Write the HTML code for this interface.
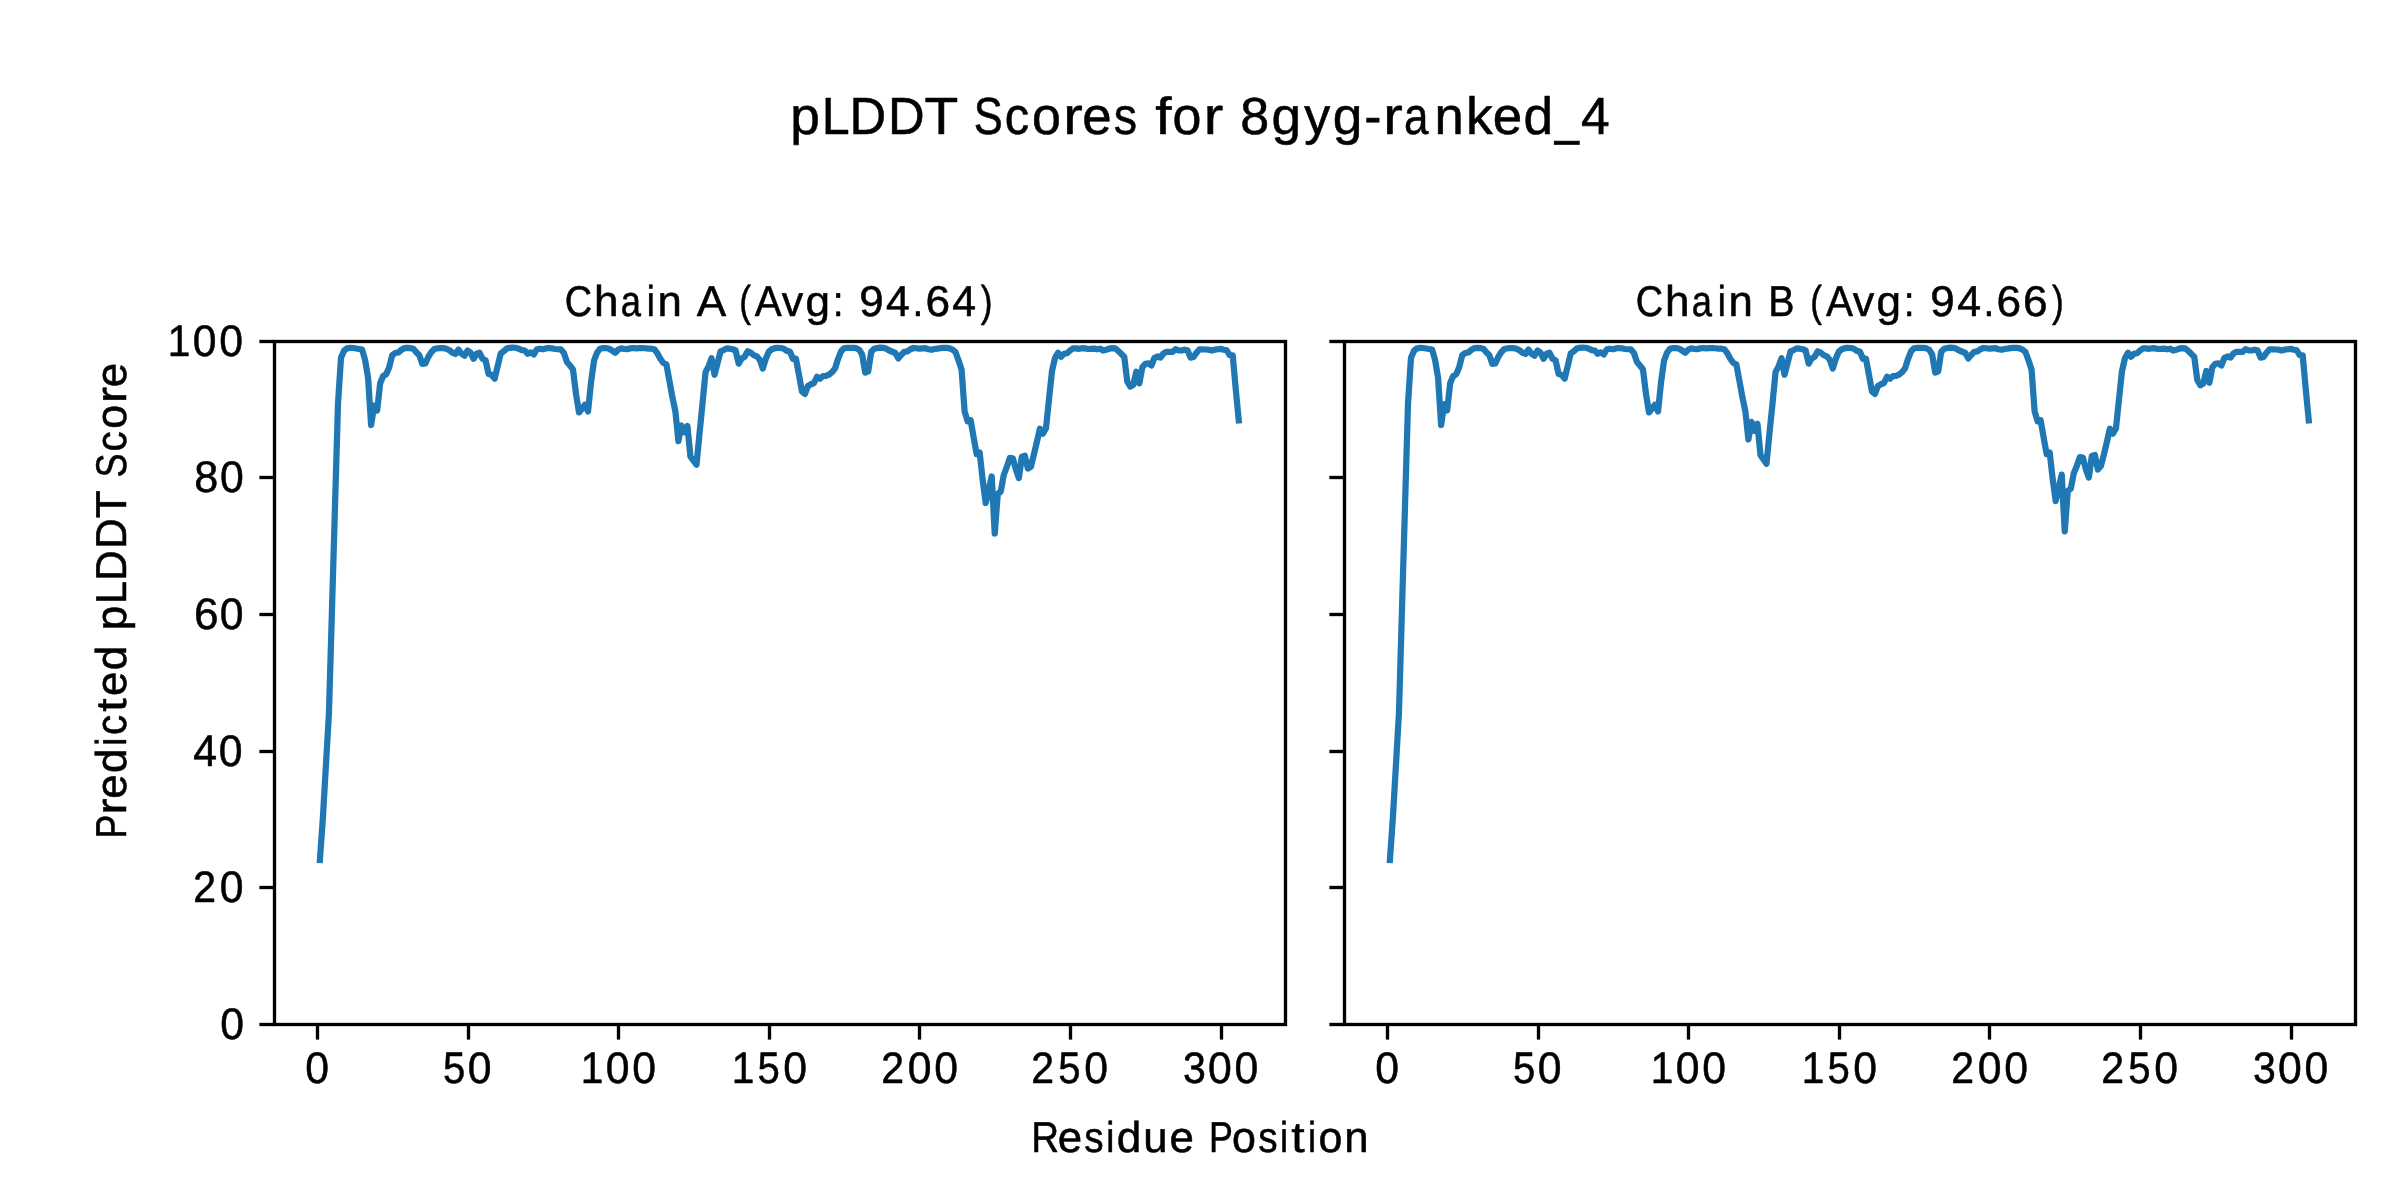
<!DOCTYPE html>
<html lang="en"><head><meta charset="utf-8"><title>pLDDT Scores for 8gyg-ranked_4</title>
<style>
html,body{margin:0;padding:0;background:#fff;}
body{width:2400px;height:1200px;overflow:hidden;}
svg{display:block;}
text{font-family:"Liberation Sans",sans-serif;fill:#000;stroke:#000;stroke-width:0.55px;stroke-linejoin:round;text-rendering:geometricPrecision;}
.sp{fill:none;stroke:#000;stroke-width:3.333;stroke-linecap:square;stroke-linejoin:miter;}
.tk{stroke:#000;stroke-width:3.333;stroke-linecap:butt;}
.ln{fill:none;stroke:#1f77b4;stroke-width:6.25;stroke-linecap:square;stroke-linejoin:round;}
</style></head><body>
<svg width="2400" height="1200" viewBox="0 0 2400 1200" role="img" aria-label="pLDDT Scores for 8gyg-ranked_4">
<rect x="0" y="0" width="2400" height="1200" fill="#ffffff"/>
<polyline class="ln" points="319.91,860.00 322.93,817.00 325.94,765.00 328.95,713.00 331.96,610.00 334.98,507.00 337.99,404.00 341.00,357.70 344.01,350.70 347.03,348.30 350.04,347.90 353.05,348.00 356.06,348.50 359.08,349.00 362.09,349.50 365.10,360.00 368.11,378.00 371.13,425.00 374.14,405.50 377.15,410.50 380.16,383.30 383.18,376.00 386.19,374.30 389.20,367.30 392.21,355.30 395.23,353.00 398.24,352.50 401.25,350.00 404.27,348.10 407.28,347.90 410.29,348.10 413.30,348.70 416.32,352.30 419.33,355.30 422.34,363.90 425.35,363.50 428.37,356.70 431.38,352.00 434.39,349.00 437.40,348.30 440.42,348.00 443.43,348.10 446.44,348.70 449.45,350.30 452.47,352.70 455.48,354.00 458.49,349.50 461.50,353.70 464.52,355.80 467.53,350.50 470.54,352.60 473.56,358.80 476.57,353.80 479.58,352.80 482.59,358.80 485.61,360.50 488.62,374.00 491.63,374.80 494.64,378.70 497.66,366.30 500.67,353.60 503.68,351.30 506.69,348.60 509.71,347.80 512.72,347.60 515.73,347.75 518.74,348.70 521.76,350.10 524.77,350.50 527.78,353.80 530.79,352.30 533.81,354.40 536.82,349.25 539.83,348.70 542.85,349.25 545.86,348.40 548.87,348.00 551.88,348.30 554.90,349.00 557.91,349.25 560.92,349.40 563.93,353.00 566.95,362.00 569.96,365.50 572.97,369.40 575.98,393.80 579.00,412.40 582.01,408.80 585.02,404.70 588.03,411.50 591.05,382.20 594.06,360.50 597.07,352.60 600.08,348.80 603.10,348.00 606.11,348.00 609.12,348.70 612.13,350.50 615.15,352.80 618.16,349.70 621.17,348.40 624.19,348.80 627.20,349.10 630.21,348.40 633.22,348.00 636.24,348.40 639.25,348.20 642.26,348.00 645.27,348.25 648.29,348.60 651.30,348.70 654.31,349.25 657.32,353.20 660.34,358.80 663.35,363.00 666.36,364.30 669.37,380.50 672.39,397.20 675.40,411.50 678.41,441.20 681.42,425.50 684.44,432.30 687.45,426.10 690.46,456.70 693.47,460.70 696.49,464.70 699.50,433.70 702.51,403.50 705.53,372.20 708.54,366.30 711.55,358.25 714.56,374.80 717.58,363.00 720.59,351.30 723.60,350.10 726.61,348.40 729.63,348.70 732.64,349.25 735.65,350.50 738.66,363.60 741.68,358.40 744.69,356.75 747.70,351.30 750.71,352.60 753.73,355.10 756.74,356.30 759.75,359.70 762.76,368.60 765.78,358.80 768.79,351.75 771.80,349.25 774.82,348.20 777.83,347.80 780.84,348.00 783.85,348.70 786.87,350.90 789.88,351.50 792.89,358.80 795.90,358.60 798.92,374.70 801.93,391.30 804.94,394.00 807.95,385.90 810.97,384.25 813.98,383.00 816.99,376.75 820.00,378.75 823.02,376.00 826.03,375.90 829.04,374.70 832.05,372.20 835.07,368.40 838.08,358.80 841.09,351.30 844.11,348.25 847.12,347.75 850.13,347.75 853.14,347.80 856.16,348.20 859.17,349.70 862.18,354.70 865.19,372.60 868.21,371.30 871.22,351.75 874.23,348.80 877.24,348.00 880.26,347.60 883.27,347.80 886.28,348.80 889.29,350.50 892.31,351.75 895.32,353.00 898.33,358.40 901.34,354.70 904.36,351.75 907.37,351.30 910.38,349.25 913.39,348.00 916.41,348.25 919.42,348.60 922.43,348.30 925.45,348.20 928.46,349.25 931.47,349.80 934.48,349.00 937.50,348.60 940.51,348.20 943.52,347.80 946.53,347.80 949.55,348.40 952.56,349.70 955.57,352.20 958.58,360.50 961.60,369.70 964.61,411.30 967.62,421.30 970.63,420.30 973.65,437.50 976.66,454.20 979.67,452.50 982.68,480.00 985.70,503.00 988.71,489.70 991.72,476.50 994.74,533.50 997.75,494.00 1000.76,491.50 1003.77,475.00 1006.79,467.00 1009.80,457.90 1012.81,458.30 1015.82,469.20 1018.84,478.00 1021.85,456.70 1024.86,455.80 1027.87,468.50 1030.89,466.70 1033.90,454.50 1036.91,441.70 1039.92,428.75 1042.94,433.60 1045.95,428.50 1048.96,399.50 1051.97,371.30 1054.99,358.00 1058.00,352.80 1061.01,356.75 1064.02,353.80 1067.04,353.25 1070.05,350.50 1073.06,348.40 1076.08,348.40 1079.09,348.80 1082.10,348.20 1085.11,348.40 1088.13,349.00 1091.14,348.80 1094.15,348.60 1097.16,349.25 1100.18,348.70 1103.19,350.50 1106.20,349.70 1109.21,348.70 1112.23,348.20 1115.24,348.40 1118.25,350.90 1121.26,353.80 1124.28,357.00 1127.29,381.70 1130.30,386.50 1133.31,384.70 1136.33,371.75 1139.34,383.40 1142.35,367.20 1145.37,363.80 1148.38,363.40 1151.39,365.50 1154.40,357.80 1157.42,356.50 1160.43,357.60 1163.44,353.40 1166.45,351.75 1169.47,351.75 1172.48,352.00 1175.49,349.25 1178.50,350.30 1181.52,350.50 1184.53,349.70 1187.54,350.30 1190.55,357.60 1193.57,357.00 1196.58,352.60 1199.59,349.25 1202.60,349.25 1205.62,349.50 1208.63,349.70 1211.64,350.50 1214.65,349.70 1217.67,349.25 1220.68,348.80 1223.69,349.70 1226.71,350.30 1229.72,355.10 1232.73,355.30 1235.74,389.00 1238.76,420.40"/>
<line class="tk" x1="317.50" y1="1024.5" x2="317.50" y2="1039.60"/>
<line class="tk" x1="468.50" y1="1024.5" x2="468.50" y2="1039.60"/>
<line class="tk" x1="618.50" y1="1024.5" x2="618.50" y2="1039.60"/>
<line class="tk" x1="769.50" y1="1024.5" x2="769.50" y2="1039.60"/>
<line class="tk" x1="919.50" y1="1024.5" x2="919.50" y2="1039.60"/>
<line class="tk" x1="1070.50" y1="1024.5" x2="1070.50" y2="1039.60"/>
<line class="tk" x1="1221.50" y1="1024.5" x2="1221.50" y2="1039.60"/>
<line class="tk" x1="259.40" y1="1024.50" x2="274.50" y2="1024.50"/>
<line class="tk" x1="259.40" y1="887.50" x2="274.50" y2="887.50"/>
<line class="tk" x1="259.40" y1="751.50" x2="274.50" y2="751.50"/>
<line class="tk" x1="259.40" y1="614.50" x2="274.50" y2="614.50"/>
<line class="tk" x1="259.40" y1="477.50" x2="274.50" y2="477.50"/>
<line class="tk" x1="259.40" y1="341.50" x2="274.50" y2="341.50"/>
<rect class="sp" x="274.50" y="341.5" width="1011" height="683"/>
<polyline class="ln" points="1389.91,860.00 1392.93,817.00 1395.94,765.00 1398.95,713.00 1401.96,610.00 1404.98,507.00 1407.99,404.00 1411.00,357.70 1414.01,350.70 1417.03,348.30 1420.04,347.90 1423.05,348.00 1426.06,348.50 1429.08,349.00 1432.09,349.50 1435.10,360.00 1438.11,378.00 1441.13,425.00 1444.14,404.20 1447.15,410.50 1450.16,383.30 1453.18,376.00 1456.19,374.30 1459.20,367.30 1462.22,355.30 1465.23,353.00 1468.24,352.50 1471.25,350.00 1474.27,348.10 1477.28,347.90 1480.29,348.10 1483.30,348.70 1486.32,352.30 1489.33,355.30 1492.34,363.90 1495.35,363.50 1498.37,356.70 1501.38,352.00 1504.39,349.00 1507.40,348.30 1510.42,348.00 1513.43,348.10 1516.44,348.70 1519.45,350.30 1522.47,352.70 1525.48,354.00 1528.49,349.50 1531.50,353.70 1534.52,355.80 1537.53,350.50 1540.54,352.60 1543.56,358.80 1546.57,353.80 1549.58,352.80 1552.59,358.80 1555.61,360.50 1558.62,374.00 1561.63,374.80 1564.64,378.70 1567.66,366.30 1570.67,353.60 1573.68,351.30 1576.69,348.60 1579.71,347.80 1582.72,347.60 1585.73,347.75 1588.74,348.70 1591.76,350.10 1594.77,350.50 1597.78,353.80 1600.79,352.30 1603.81,354.40 1606.82,349.25 1609.83,348.70 1612.85,349.25 1615.86,348.40 1618.87,348.00 1621.88,348.30 1624.90,349.00 1627.91,349.25 1630.92,349.40 1633.93,353.00 1636.95,362.00 1639.96,365.50 1642.97,369.40 1645.98,393.80 1649.00,412.40 1652.01,408.80 1655.02,404.70 1658.03,411.50 1661.05,382.20 1664.06,360.50 1667.07,352.60 1670.08,348.80 1673.10,348.00 1676.11,348.00 1679.12,348.70 1682.13,350.50 1685.15,352.80 1688.16,349.70 1691.17,348.40 1694.19,348.80 1697.20,349.10 1700.21,348.40 1703.22,348.00 1706.24,348.40 1709.25,348.20 1712.26,348.00 1715.27,348.25 1718.29,348.60 1721.30,348.70 1724.31,349.25 1727.32,353.20 1730.34,358.80 1733.35,363.00 1736.36,364.30 1739.37,380.50 1742.39,397.20 1745.40,411.50 1748.41,439.50 1751.42,421.80 1754.44,430.70 1757.45,423.80 1760.46,454.90 1763.48,459.40 1766.49,463.80 1769.50,433.00 1772.51,403.50 1775.53,372.20 1778.54,366.30 1781.55,358.25 1784.56,374.80 1787.58,363.00 1790.59,351.30 1793.60,350.10 1796.61,348.40 1799.63,348.70 1802.64,349.25 1805.65,350.50 1808.66,363.60 1811.68,358.40 1814.69,356.75 1817.70,351.30 1820.71,352.60 1823.73,355.10 1826.74,356.30 1829.75,359.70 1832.76,368.60 1835.78,358.80 1838.79,351.75 1841.80,349.25 1844.82,348.20 1847.83,347.80 1850.84,348.00 1853.85,348.70 1856.87,350.90 1859.88,351.50 1862.89,358.80 1865.90,358.60 1868.92,374.70 1871.93,391.30 1874.94,394.00 1877.95,385.90 1880.97,384.25 1883.98,383.00 1886.99,376.75 1890.00,378.75 1893.02,376.00 1896.03,375.90 1899.04,374.70 1902.05,372.20 1905.07,368.40 1908.08,358.80 1911.09,351.30 1914.11,348.25 1917.12,347.75 1920.13,347.75 1923.14,347.80 1926.16,348.20 1929.17,349.70 1932.18,354.70 1935.19,372.60 1938.21,371.30 1941.22,351.75 1944.23,348.80 1947.24,348.00 1950.26,347.60 1953.27,347.80 1956.28,348.80 1959.29,350.50 1962.31,351.75 1965.32,353.00 1968.33,358.40 1971.34,354.70 1974.36,351.75 1977.37,351.30 1980.38,349.25 1983.39,348.00 1986.41,348.25 1989.42,348.60 1992.43,348.30 1995.45,348.20 1998.46,349.25 2001.47,349.80 2004.48,349.00 2007.50,348.60 2010.51,348.20 2013.52,347.80 2016.53,347.80 2019.55,348.40 2022.56,349.70 2025.57,352.20 2028.58,360.50 2031.60,369.70 2034.61,411.30 2037.62,421.30 2040.63,420.30 2043.65,437.50 2046.66,454.20 2049.67,452.50 2052.68,479.00 2055.70,501.00 2058.71,488.00 2061.72,474.60 2064.74,531.30 2067.75,491.00 2070.76,488.80 2073.77,473.30 2076.79,466.00 2079.80,457.20 2082.81,457.60 2085.82,469.20 2088.84,477.60 2091.85,455.90 2094.86,455.00 2097.87,469.50 2100.89,466.00 2103.90,454.50 2106.91,441.70 2109.92,428.75 2112.94,433.60 2115.95,428.50 2118.96,399.50 2121.97,371.30 2124.99,358.00 2128.00,352.80 2131.01,356.75 2134.02,353.80 2137.04,353.25 2140.05,350.50 2143.06,348.40 2146.08,348.40 2149.09,348.80 2152.10,348.20 2155.11,348.40 2158.13,349.00 2161.14,348.80 2164.15,348.60 2167.16,349.25 2170.18,348.70 2173.19,350.50 2176.20,349.70 2179.21,348.70 2182.23,348.20 2185.24,348.40 2188.25,350.90 2191.26,353.80 2194.28,357.00 2197.29,380.00 2200.30,385.30 2203.31,383.60 2206.33,371.00 2209.34,382.80 2212.35,367.20 2215.37,363.80 2218.38,363.40 2221.39,365.50 2224.40,357.80 2227.42,356.50 2230.43,357.60 2233.44,353.40 2236.45,351.75 2239.47,351.75 2242.48,352.00 2245.49,349.25 2248.50,350.30 2251.52,350.50 2254.53,349.70 2257.54,350.30 2260.55,357.60 2263.57,357.00 2266.58,352.60 2269.59,349.25 2272.60,349.25 2275.62,349.50 2278.63,349.70 2281.64,350.50 2284.65,349.70 2287.67,349.25 2290.68,348.80 2293.69,349.70 2296.71,350.30 2299.72,355.10 2302.73,355.30 2305.74,389.00 2308.76,420.40"/>
<line class="tk" x1="1387.50" y1="1024.5" x2="1387.50" y2="1039.60"/>
<line class="tk" x1="1538.50" y1="1024.5" x2="1538.50" y2="1039.60"/>
<line class="tk" x1="1688.50" y1="1024.5" x2="1688.50" y2="1039.60"/>
<line class="tk" x1="1839.50" y1="1024.5" x2="1839.50" y2="1039.60"/>
<line class="tk" x1="1989.50" y1="1024.5" x2="1989.50" y2="1039.60"/>
<line class="tk" x1="2140.50" y1="1024.5" x2="2140.50" y2="1039.60"/>
<line class="tk" x1="2291.50" y1="1024.5" x2="2291.50" y2="1039.60"/>
<line class="tk" x1="1329.40" y1="1024.50" x2="1344.50" y2="1024.50"/>
<line class="tk" x1="1329.40" y1="887.50" x2="1344.50" y2="887.50"/>
<line class="tk" x1="1329.40" y1="751.50" x2="1344.50" y2="751.50"/>
<line class="tk" x1="1329.40" y1="614.50" x2="1344.50" y2="614.50"/>
<line class="tk" x1="1329.40" y1="477.50" x2="1344.50" y2="477.50"/>
<line class="tk" x1="1329.40" y1="341.50" x2="1344.50" y2="341.50"/>
<rect class="sp" x="1344.50" y="341.5" width="1011" height="683"/>
<g opacity="0.999">
<text font-size="52.301" y="134.00"><tspan x="790.34" textLength="29.60" lengthAdjust="spacingAndGlyphs">p</tspan><tspan x="821.78" textLength="27.93" lengthAdjust="spacingAndGlyphs">L</tspan><tspan x="849.61" textLength="36.65" lengthAdjust="spacingAndGlyphs">D</tspan><tspan x="888.11" textLength="36.65" lengthAdjust="spacingAndGlyphs">D</tspan><tspan x="924.57" textLength="32.76" lengthAdjust="spacingAndGlyphs">T</tspan> <tspan x="973.70" textLength="28.98" lengthAdjust="spacingAndGlyphs">S</tspan><tspan x="1004.72" textLength="24.42" lengthAdjust="spacingAndGlyphs">c</tspan><tspan x="1032.11" textLength="28.89" lengthAdjust="spacingAndGlyphs">o</tspan><tspan x="1063.16" textLength="19.51" lengthAdjust="spacingAndGlyphs">r</tspan><tspan x="1082.18" textLength="29.40" lengthAdjust="spacingAndGlyphs">e</tspan><tspan x="1113.79" textLength="23.35" lengthAdjust="spacingAndGlyphs">s</tspan> <tspan x="1155.37" textLength="16.27" lengthAdjust="spacingAndGlyphs">f</tspan><tspan x="1172.61" textLength="28.89" lengthAdjust="spacingAndGlyphs">o</tspan><tspan x="1203.66" textLength="19.51" lengthAdjust="spacingAndGlyphs">r</tspan> <tspan x="1240.29" textLength="28.92" lengthAdjust="spacingAndGlyphs">8</tspan><tspan x="1271.43" textLength="29.60" lengthAdjust="spacingAndGlyphs">g</tspan><tspan x="1304.26" textLength="25.96" lengthAdjust="spacingAndGlyphs">y</tspan><tspan x="1332.81" textLength="29.60" lengthAdjust="spacingAndGlyphs">g</tspan><tspan x="1364.23" textLength="17.16" lengthAdjust="spacingAndGlyphs">-</tspan><tspan x="1383.16" textLength="19.51" lengthAdjust="spacingAndGlyphs">r</tspan><tspan x="1403.93" textLength="24.42" lengthAdjust="spacingAndGlyphs">a</tspan><tspan x="1434.41" textLength="29.23" lengthAdjust="spacingAndGlyphs">n</tspan><tspan x="1465.92" textLength="26.74" lengthAdjust="spacingAndGlyphs">k</tspan><tspan x="1492.68" textLength="29.40" lengthAdjust="spacingAndGlyphs">e</tspan><tspan x="1523.43" textLength="29.60" lengthAdjust="spacingAndGlyphs">d</tspan><tspan x="1554.81" textLength="24.30" lengthAdjust="spacingAndGlyphs">_</tspan><tspan x="1580.90" textLength="28.71" lengthAdjust="spacingAndGlyphs">4</tspan></text>
<text font-size="43.047" y="316.00"><tspan x="564.74" textLength="27.30" lengthAdjust="spacingAndGlyphs">C</tspan><tspan x="594.10" textLength="24.49" lengthAdjust="spacingAndGlyphs">h</tspan><tspan x="620.77" textLength="20.21" lengthAdjust="spacingAndGlyphs">a</tspan><tspan x="646.71" textLength="8.10" lengthAdjust="spacingAndGlyphs">i</tspan><tspan x="657.62" textLength="24.32" lengthAdjust="spacingAndGlyphs">n</tspan> <tspan x="696.83" textLength="27.01" lengthAdjust="spacingAndGlyphs">A</tspan> <tspan x="739.16" textLength="11.75" lengthAdjust="spacingAndGlyphs">(</tspan><tspan x="754.83" textLength="27.01" lengthAdjust="spacingAndGlyphs">A</tspan><tspan x="781.67" textLength="21.53" lengthAdjust="spacingAndGlyphs">v</tspan><tspan x="805.44" textLength="24.50" lengthAdjust="spacingAndGlyphs">g</tspan><tspan x="832.73" textLength="10.80" lengthAdjust="spacingAndGlyphs">:</tspan> <tspan x="859.25" textLength="24.42" lengthAdjust="spacingAndGlyphs">9</tspan><tspan x="886.10" textLength="23.82" lengthAdjust="spacingAndGlyphs">4</tspan><tspan x="912.47" textLength="10.81" lengthAdjust="spacingAndGlyphs">.</tspan><tspan x="925.41" textLength="24.61" lengthAdjust="spacingAndGlyphs">6</tspan><tspan x="952.35" textLength="23.82" lengthAdjust="spacingAndGlyphs">4</tspan><tspan x="980.77" textLength="11.75" lengthAdjust="spacingAndGlyphs">)</tspan></text>
<text font-size="43.047" y="316.00"><tspan x="1635.74" textLength="27.30" lengthAdjust="spacingAndGlyphs">C</tspan><tspan x="1665.10" textLength="24.49" lengthAdjust="spacingAndGlyphs">h</tspan><tspan x="1691.77" textLength="20.21" lengthAdjust="spacingAndGlyphs">a</tspan><tspan x="1717.71" textLength="8.10" lengthAdjust="spacingAndGlyphs">i</tspan><tspan x="1728.62" textLength="24.32" lengthAdjust="spacingAndGlyphs">n</tspan> <tspan x="1768.30" textLength="26.23" lengthAdjust="spacingAndGlyphs">B</tspan> <tspan x="1810.29" textLength="11.75" lengthAdjust="spacingAndGlyphs">(</tspan><tspan x="1825.96" textLength="27.01" lengthAdjust="spacingAndGlyphs">A</tspan><tspan x="1852.80" textLength="21.53" lengthAdjust="spacingAndGlyphs">v</tspan><tspan x="1876.57" textLength="24.50" lengthAdjust="spacingAndGlyphs">g</tspan><tspan x="1903.85" textLength="10.80" lengthAdjust="spacingAndGlyphs">:</tspan> <tspan x="1930.37" textLength="24.42" lengthAdjust="spacingAndGlyphs">9</tspan><tspan x="1957.23" textLength="23.82" lengthAdjust="spacingAndGlyphs">4</tspan><tspan x="1983.60" textLength="10.81" lengthAdjust="spacingAndGlyphs">.</tspan><tspan x="1996.54" textLength="24.61" lengthAdjust="spacingAndGlyphs">6</tspan><tspan x="2023.04" textLength="24.61" lengthAdjust="spacingAndGlyphs">6</tspan><tspan x="2051.90" textLength="11.75" lengthAdjust="spacingAndGlyphs">)</tspan></text>
<text font-size="43.047" y="1152.00"><tspan x="1031.24" textLength="27.83" lengthAdjust="spacingAndGlyphs">R</tspan><tspan x="1057.81" textLength="24.37" lengthAdjust="spacingAndGlyphs">e</tspan><tspan x="1084.26" textLength="19.34" lengthAdjust="spacingAndGlyphs">s</tspan><tspan x="1106.21" textLength="8.10" lengthAdjust="spacingAndGlyphs">i</tspan><tspan x="1116.69" textLength="24.50" lengthAdjust="spacingAndGlyphs">d</tspan><tspan x="1143.31" textLength="24.32" lengthAdjust="spacingAndGlyphs">u</tspan><tspan x="1169.43" textLength="24.37" lengthAdjust="spacingAndGlyphs">e</tspan> <tspan x="1209.09" textLength="23.87" lengthAdjust="spacingAndGlyphs">P</tspan><tspan x="1231.98" textLength="23.90" lengthAdjust="spacingAndGlyphs">o</tspan><tspan x="1258.13" textLength="19.34" lengthAdjust="spacingAndGlyphs">s</tspan><tspan x="1280.09" textLength="8.10" lengthAdjust="spacingAndGlyphs">i</tspan><tspan x="1291.24" textLength="13.39" lengthAdjust="spacingAndGlyphs">t</tspan><tspan x="1307.96" textLength="8.10" lengthAdjust="spacingAndGlyphs">i</tspan><tspan x="1318.48" textLength="23.90" lengthAdjust="spacingAndGlyphs">o</tspan><tspan x="1344.24" textLength="24.32" lengthAdjust="spacingAndGlyphs">n</tspan></text>
<text transform="translate(126.00 840.00) rotate(-90)" font-size="43.047" y="0"><tspan x="1.46" textLength="23.87" lengthAdjust="spacingAndGlyphs">P</tspan><tspan x="25.55" textLength="16.06" lengthAdjust="spacingAndGlyphs">r</tspan><tspan x="41.31" textLength="24.37" lengthAdjust="spacingAndGlyphs">e</tspan><tspan x="66.94" textLength="24.50" lengthAdjust="spacingAndGlyphs">d</tspan><tspan x="94.34" textLength="8.10" lengthAdjust="spacingAndGlyphs">i</tspan><tspan x="104.95" textLength="20.22" lengthAdjust="spacingAndGlyphs">c</tspan><tspan x="128.36" textLength="13.39" lengthAdjust="spacingAndGlyphs">t</tspan><tspan x="144.06" textLength="24.37" lengthAdjust="spacingAndGlyphs">e</tspan><tspan x="169.69" textLength="24.50" lengthAdjust="spacingAndGlyphs">d</tspan> <tspan x="209.81" textLength="24.50" lengthAdjust="spacingAndGlyphs">p</tspan><tspan x="235.99" textLength="23.12" lengthAdjust="spacingAndGlyphs">L</tspan><tspan x="259.19" textLength="30.41" lengthAdjust="spacingAndGlyphs">D</tspan><tspan x="291.32" textLength="30.41" lengthAdjust="spacingAndGlyphs">D</tspan><tspan x="321.65" textLength="27.09" lengthAdjust="spacingAndGlyphs">T</tspan> <tspan x="362.53" textLength="24.07" lengthAdjust="spacingAndGlyphs">S</tspan><tspan x="388.45" textLength="20.22" lengthAdjust="spacingAndGlyphs">c</tspan><tspan x="411.23" textLength="23.90" lengthAdjust="spacingAndGlyphs">o</tspan><tspan x="437.05" textLength="16.06" lengthAdjust="spacingAndGlyphs">r</tspan><tspan x="452.81" textLength="24.37" lengthAdjust="spacingAndGlyphs">e</tspan></text>
<text font-size="44.151" y="1083.00"><tspan x="305.37" textLength="23.76" lengthAdjust="spacingAndGlyphs">0</tspan></text>
<text font-size="44.151" y="1083.00"><tspan x="442.91" textLength="22.34" lengthAdjust="spacingAndGlyphs">5</tspan><tspan x="467.87" textLength="23.76" lengthAdjust="spacingAndGlyphs">0</tspan></text>
<text font-size="44.151" y="1083.00"><tspan x="580.74" textLength="22.60" lengthAdjust="spacingAndGlyphs">1</tspan><tspan x="605.87" textLength="23.76" lengthAdjust="spacingAndGlyphs">0</tspan><tspan x="632.37" textLength="23.76" lengthAdjust="spacingAndGlyphs">0</tspan></text>
<text font-size="44.151" y="1083.00"><tspan x="731.74" textLength="22.60" lengthAdjust="spacingAndGlyphs">1</tspan><tspan x="757.41" textLength="22.34" lengthAdjust="spacingAndGlyphs">5</tspan><tspan x="783.37" textLength="23.76" lengthAdjust="spacingAndGlyphs">0</tspan></text>
<text font-size="44.151" y="1083.00"><tspan x="881.21" textLength="22.83" lengthAdjust="spacingAndGlyphs">2</tspan><tspan x="907.74" textLength="23.76" lengthAdjust="spacingAndGlyphs">0</tspan><tspan x="934.24" textLength="23.76" lengthAdjust="spacingAndGlyphs">0</tspan></text>
<text font-size="44.151" y="1083.00"><tspan x="1031.21" textLength="22.83" lengthAdjust="spacingAndGlyphs">2</tspan><tspan x="1058.29" textLength="22.34" lengthAdjust="spacingAndGlyphs">5</tspan><tspan x="1084.24" textLength="23.76" lengthAdjust="spacingAndGlyphs">0</tspan></text>
<text font-size="44.151" y="1083.00"><tspan x="1182.89" textLength="22.85" lengthAdjust="spacingAndGlyphs">3</tspan><tspan x="1207.99" textLength="23.76" lengthAdjust="spacingAndGlyphs">0</tspan><tspan x="1234.49" textLength="23.76" lengthAdjust="spacingAndGlyphs">0</tspan></text>
<text font-size="44.151" y="1039.00"><tspan x="220.37" textLength="23.76" lengthAdjust="spacingAndGlyphs">0</tspan></text>
<text font-size="44.151" y="902.00"><tspan x="193.21" textLength="22.83" lengthAdjust="spacingAndGlyphs">2</tspan><tspan x="219.74" textLength="23.76" lengthAdjust="spacingAndGlyphs">0</tspan></text>
<text font-size="44.151" y="766.00"><tspan x="193.35" textLength="23.82" lengthAdjust="spacingAndGlyphs">4</tspan><tspan x="218.87" textLength="23.76" lengthAdjust="spacingAndGlyphs">0</tspan></text>
<text font-size="44.151" y="629.00"><tspan x="193.91" textLength="24.61" lengthAdjust="spacingAndGlyphs">6</tspan><tspan x="219.87" textLength="23.76" lengthAdjust="spacingAndGlyphs">0</tspan></text>
<text font-size="44.151" y="492.00"><tspan x="194.30" textLength="24.02" lengthAdjust="spacingAndGlyphs">8</tspan><tspan x="219.99" textLength="23.76" lengthAdjust="spacingAndGlyphs">0</tspan></text>
<text font-size="44.151" y="356.00"><tspan x="167.74" textLength="22.60" lengthAdjust="spacingAndGlyphs">1</tspan><tspan x="192.87" textLength="23.76" lengthAdjust="spacingAndGlyphs">0</tspan><tspan x="219.37" textLength="23.76" lengthAdjust="spacingAndGlyphs">0</tspan></text>
<text font-size="44.151" y="1083.00"><tspan x="1375.37" textLength="23.76" lengthAdjust="spacingAndGlyphs">0</tspan></text>
<text font-size="44.151" y="1083.00"><tspan x="1512.91" textLength="22.34" lengthAdjust="spacingAndGlyphs">5</tspan><tspan x="1537.87" textLength="23.76" lengthAdjust="spacingAndGlyphs">0</tspan></text>
<text font-size="44.151" y="1083.00"><tspan x="1650.74" textLength="22.60" lengthAdjust="spacingAndGlyphs">1</tspan><tspan x="1675.87" textLength="23.76" lengthAdjust="spacingAndGlyphs">0</tspan><tspan x="1702.37" textLength="23.76" lengthAdjust="spacingAndGlyphs">0</tspan></text>
<text font-size="44.151" y="1083.00"><tspan x="1801.74" textLength="22.60" lengthAdjust="spacingAndGlyphs">1</tspan><tspan x="1827.41" textLength="22.34" lengthAdjust="spacingAndGlyphs">5</tspan><tspan x="1853.37" textLength="23.76" lengthAdjust="spacingAndGlyphs">0</tspan></text>
<text font-size="44.151" y="1083.00"><tspan x="1951.21" textLength="22.83" lengthAdjust="spacingAndGlyphs">2</tspan><tspan x="1977.74" textLength="23.76" lengthAdjust="spacingAndGlyphs">0</tspan><tspan x="2004.24" textLength="23.76" lengthAdjust="spacingAndGlyphs">0</tspan></text>
<text font-size="44.151" y="1083.00"><tspan x="2101.21" textLength="22.83" lengthAdjust="spacingAndGlyphs">2</tspan><tspan x="2128.29" textLength="22.34" lengthAdjust="spacingAndGlyphs">5</tspan><tspan x="2154.24" textLength="23.76" lengthAdjust="spacingAndGlyphs">0</tspan></text>
<text font-size="44.151" y="1083.00"><tspan x="2252.89" textLength="22.85" lengthAdjust="spacingAndGlyphs">3</tspan><tspan x="2277.99" textLength="23.76" lengthAdjust="spacingAndGlyphs">0</tspan><tspan x="2304.49" textLength="23.76" lengthAdjust="spacingAndGlyphs">0</tspan></text>
</g>
</svg>
</body></html>
